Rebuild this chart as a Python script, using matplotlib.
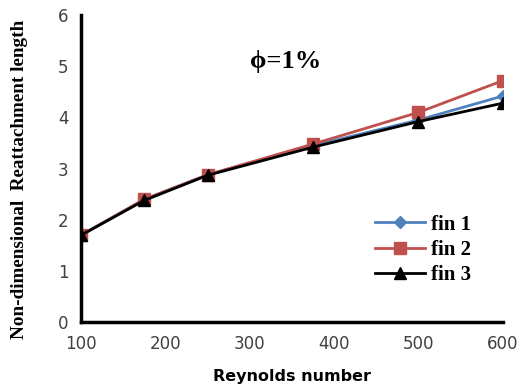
import matplotlib.pyplot as plt

re_num = [100, 175, 250, 375, 500, 600]
fin1 = [1.70, 2.40, 2.88, 3.45, 3.95, 4.42]
fin2 = [1.70, 2.40, 2.88, 3.48, 4.10, 4.72]
fin3 = [1.70, 2.38, 2.87, 3.42, 3.92, 4.28]

fig = plt.figure(figsize=(5.2, 3.89), dpi=100)
ax = fig.add_axes([0.156, 0.172, 0.811, 0.789])

ax.plot(re_num, fin1, color='#4F81BD', lw=2, marker='D', ms=6, label='fin 1')
ax.plot(re_num, fin2, color='#C0504D', lw=2, marker='s', ms=9, label='fin 2')
ax.plot(re_num, fin3, color='black', lw=2, marker='^', ms=8, label='fin 3')

ax.set_xlim(100, 600)
ax.set_ylim(0, 6)
ax.set_xticks([100, 200, 300, 400, 500, 600])
ax.set_yticks(range(7))
ax.tick_params(length=0, labelsize=12, pad=9, labelcolor='#404040')
for s in ['top', 'right']:
    ax.spines[s].set_visible(False)
for s in ['left', 'bottom']:
    ax.spines[s].set_linewidth(2.5)

ax.set_xlabel('Reynolds number', fontsize=11.5, fontweight='bold', labelpad=12)
ax.set_ylabel('Non-dimensional  Reattachment length', fontsize=13.8,
              fontweight='bold', family='Liberation Serif')
ax.yaxis.set_label_coords(-0.127, 0.466)
ax.text(342, 5.1, 'ϕ=1%', fontsize=19, fontweight='bold',
        family='Liberation Serif', ha='center', va='center')

ax.legend(loc='center', bbox_to_anchor=(0.81, 0.235), frameon=False,
          prop={'family': 'Liberation Serif', 'weight': 'bold', 'size': 15},
          handlelength=2.4, labelspacing=0.25, handletextpad=0.3)

fig.savefig('out.png')
